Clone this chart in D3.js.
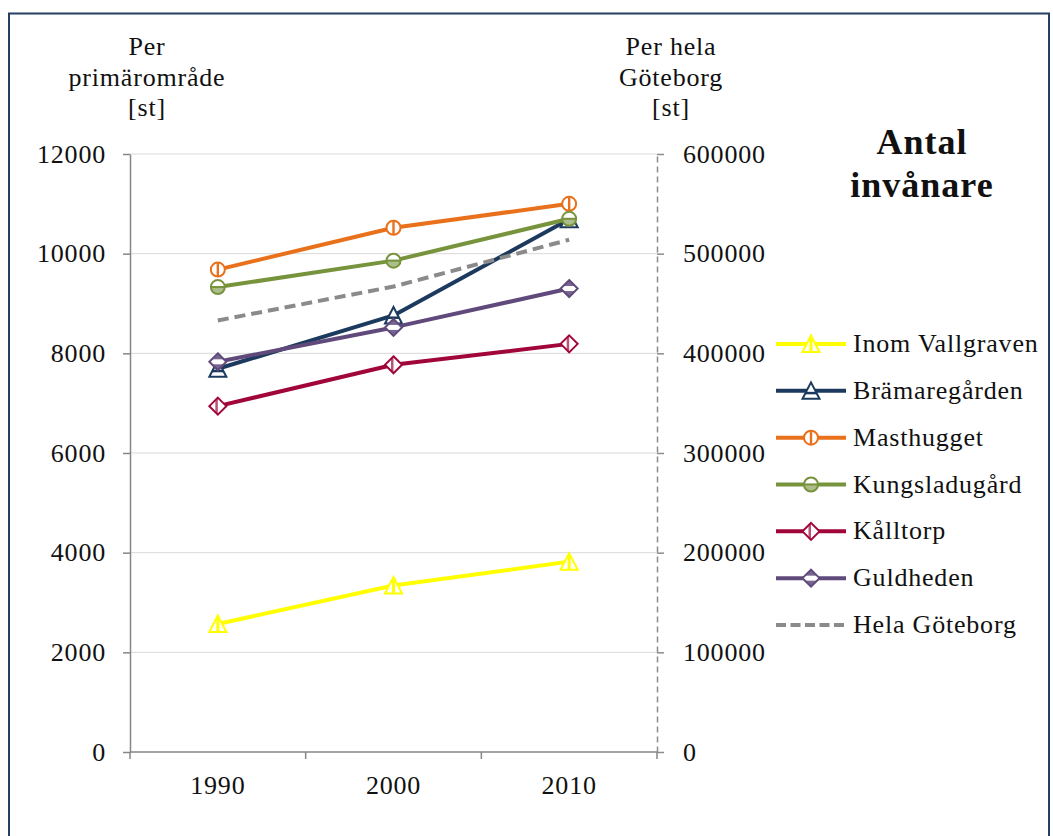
<!DOCTYPE html>
<html>
<head>
<meta charset="utf-8">
<script src="https://cdn.jsdelivr.net/npm/d3@7"></script>
<style>
  html, body { margin: 0; padding: 0; background: #fff; }
  svg text { font-family: "Liberation Serif", "Times New Roman", serif; fill: #111; }
</style>
</head>
<body>
<svg id="chart" width="1053" height="836"></svg>
<script>
// Population per district (left axis) and for all of Göteborg (right axis)
const years = ["1990", "2000", "2010"];

const inomVallgraven = [2570, 3340, 3820];
const bramaregarden  = [7690, 8760, 10690];
const masthugget     = [9680, 10520, 11000];
const kungsladugard  = [9330, 9860, 10700];
const kalltorp       = [6940, 7770, 8190];
const guldheden      = [7830, 8520, 9300];
const helaGoteborg   = [433000, 467000, 514000];

const leftTicks  = [0, 2000, 4000, 6000, 8000, 10000, 12000];
const rightTicks = [0, 100000, 200000, 300000, 400000, 500000, 600000];

const seriesNames = ["Inom Vallgraven", "Brämaregården", "Masthugget", "Kungsladugård", "Kålltorp", "Guldheden", "Hela Göteborg"];

const series = [
  { name: seriesNames[0], values: inomVallgraven, color: "#ffff00", marker: "triV", axis: "left" },
  { name: seriesNames[1], values: bramaregarden,  color: "#1c3a5e", marker: "triH", axis: "left" },
  { name: seriesNames[2], values: masthugget,     color: "#e9711c", marker: "circV", axis: "left" },
  { name: seriesNames[3], values: kungsladugard,  color: "#77933c", marker: "circH", axis: "left" },
  { name: seriesNames[4], values: kalltorp,       color: "#a0063a", marker: "diamV", axis: "left" },
  { name: seriesNames[5], values: guldheden,      color: "#604a7b", marker: "diamH", axis: "left" },
  { name: seriesNames[6], values: helaGoteborg,   color: "#8a8a8a", marker: null, axis: "right", dashed: true }
];

const svg = d3.select("#chart");
const plot = { left: 130, right: 657, top: 154, bottom: 752 };
const axisColor = "#868686";

const x = d3.scaleBand().domain(years).range([plot.left, plot.right]).padding(0);
const yL = d3.scaleLinear().domain([0, 12000]).range([plot.bottom, plot.top]);
const yR = d3.scaleLinear().domain([0, 600000]).range([plot.bottom, plot.top]);
const cx = d => x(d) + x.bandwidth() / 2;

// Outer frame
svg.append("rect")
  .attr("x", 9).attr("y", 13.5).attr("width", 1040).attr("height", 900)
  .attr("fill", "none").attr("stroke", "#243f60").attr("stroke-width", 2);

// Marker clip shapes, centred on the origin
const defs = svg.append("defs");
const shapes = {
  tri: "M0,-8.5 L8.5,8 L-8.5,8 Z",
  diam: "M0,-8.5 L8.5,0 L0,8.5 L-8.5,0 Z"
};
defs.append("clipPath").attr("id", "clip-tri").attr("clipPathUnits", "userSpaceOnUse")
  .append("path").attr("d", shapes.tri);
defs.append("clipPath").attr("id", "clip-diam").attr("clipPathUnits", "userSpaceOnUse")
  .append("path").attr("d", shapes.diam);
defs.append("clipPath").attr("id", "clip-circ").attr("clipPathUnits", "userSpaceOnUse")
  .append("circle").attr("r", 7);

function drawMarker(g, type, color) {
  const base = type.startsWith("tri") ? "tri" : type.startsWith("circ") ? "circ" : "diam";
  const outline = () => base === "circ"
    ? g.append("circle").attr("r", 7)
    : g.append("path").attr("d", shapes[base]);
  outline().attr("fill", "#fff");
  const inner = g.append("g").attr("clip-path", `url(#clip-${base})`);
  if (type === "triV") {
    inner.append("rect").attr("x", -1.5).attr("y", -10).attr("width", 3).attr("height", 20).attr("fill", color);
  } else if (type === "triH") {
    inner.append("rect").attr("x", -10).attr("y", 1).attr("width", 20).attr("height", 2.5).attr("fill", color);
  } else if (type === "circV") {
    inner.append("rect").attr("x", -1.2).attr("y", -8).attr("width", 2.4).attr("height", 16).attr("fill", color);
  } else if (type === "circH") {
    inner.append("rect").attr("x", -8).attr("y", -0.8).attr("width", 16).attr("height", 9).attr("fill", color).attr("fill-opacity", 0.6);
    inner.append("rect").attr("x", -8).attr("y", -1).attr("width", 16).attr("height", 2).attr("fill", color);
  } else if (type === "diamV") {
    inner.append("rect").attr("x", -2.5).attr("y", -10).attr("width", 2.5).attr("height", 20).attr("fill", color).attr("fill-opacity", 0.7);
  } else if (type === "diamH") {
    inner.append("rect").attr("x", -10).attr("y", -10).attr("width", 20).attr("height", 7.5).attr("fill", color).attr("fill-opacity", 0.85);
    inner.append("rect").attr("x", -10).attr("y", 2.5).attr("width", 20).attr("height", 7.5).attr("fill", color).attr("fill-opacity", 0.85);
  }
  outline().attr("fill", "none").attr("stroke", color).attr("stroke-width", 2);
}

// Horizontal gridlines
svg.append("g").selectAll("line")
  .data(leftTicks.filter(t => t > 0))
  .join("line")
  .attr("x1", plot.left).attr("x2", plot.right)
  .attr("y1", d => yL(d)).attr("y2", d => yL(d))
  .attr("stroke", "#d9d9d9").attr("stroke-width", 1);

// Left axis
const gLeft = svg.append("g").attr("transform", `translate(${plot.left},0)`)
  .call(d3.axisLeft(yL).tickValues(leftTicks).tickSize(7).tickSizeOuter(0).tickPadding(17).tickFormat(d3.format("d")));
gLeft.select(".domain").attr("stroke", axisColor).attr("stroke-width", 1.5);
gLeft.selectAll(".tick line").attr("stroke", axisColor).attr("stroke-width", 1.5);
gLeft.selectAll(".tick text").attr("font-size", 26).attr("letter-spacing", "0.8px")
  .attr("font-family", "Liberation Serif").attr("fill", "#111");

// Right axis (dashed spine)
const gRight = svg.append("g").attr("transform", `translate(${plot.right},0)`)
  .call(d3.axisRight(yR).tickValues(rightTicks).tickSize(7).tickSizeOuter(0).tickPadding(19).tickFormat(d3.format("d")));
gRight.select(".domain").attr("stroke", "#8c8c8c").attr("stroke-width", 1.5).attr("stroke-dasharray", "6,4");
gRight.selectAll(".tick line").attr("stroke", "#8c8c8c").attr("stroke-width", 1.5);
gRight.selectAll(".tick text").attr("font-size", 26).attr("letter-spacing", "0.8px")
  .attr("font-family", "Liberation Serif").attr("fill", "#111");

// Bottom axis: category labels at band centres, ticks on band boundaries
const gBottom = svg.append("g").attr("transform", `translate(0,${plot.bottom})`)
  .call(d3.axisBottom(x).tickSize(0).tickPadding(24));
gBottom.select(".domain").remove();
gBottom.selectAll(".tick text").attr("font-size", 26).attr("letter-spacing", "0.8px")
  .attr("font-family", "Liberation Serif").attr("fill", "#111");
svg.append("line")
  .attr("x1", plot.left).attr("x2", plot.right)
  .attr("y1", plot.bottom).attr("y2", plot.bottom)
  .attr("stroke", axisColor).attr("stroke-width", 1.5);
const boundaries = years.map(d => x(d)).concat([x(years[years.length - 1]) + x.bandwidth()]);
svg.append("g").selectAll("line")
  .data(boundaries)
  .join("line")
  .attr("x1", d => d).attr("x2", d => d)
  .attr("y1", plot.bottom).attr("y2", plot.bottom + 7)
  .attr("stroke", axisColor).attr("stroke-width", 1.5);

// Axis titles
function multiline(xc, baselines, lines, size, weight, spacing) {
  const t = svg.append("text").attr("text-anchor", "middle")
    .attr("font-size", size).attr("font-weight", weight || "normal")
    .attr("letter-spacing", spacing || "0.8px");
  lines.forEach((s, i) => t.append("tspan").attr("x", xc).attr("y", baselines[i]).text(s));
}
multiline(147, [55, 86, 116], ["Per", "primärområde", "[st]"], 26);
multiline(671, [55, 86, 116], ["Per hela", "Göteborg", "[st]"], 26);
multiline(922, [154, 197], ["Antal", "invånare"], 36, "bold", "1px");

// Series lines and markers
series.forEach(s => {
  const yS = s.axis === "left" ? yL : yR;
  const pts = years.map((yr, i) => ({ yr, v: s.values[i] }));
  const line = d3.line().x(d => cx(d.yr)).y(d => yS(d.v));
  const path = svg.append("path").datum(pts)
    .attr("d", line)
    .attr("fill", "none")
    .attr("stroke", s.color)
    .attr("stroke-width", 4)
    .attr("stroke-linejoin", "round");
  if (s.dashed) path.attr("stroke-dasharray", "11,6");
  if (s.marker) {
    pts.forEach(d => {
      const g = svg.append("g").attr("transform", `translate(${cx(d.yr)},${yS(d.v)})`);
      drawMarker(g, s.marker, s.color);
    });
  }
});

// Legend
const legendY = d3.scalePoint().domain(seriesNames).range([344, 625]);
series.forEach(s => {
  const yy = legendY(s.name);
  const ln = svg.append("line")
    .attr("x1", 776).attr("x2", 846).attr("y1", yy).attr("y2", yy)
    .attr("stroke", s.color).attr("stroke-width", 4);
  if (s.dashed) ln.attr("stroke-dasharray", "10,4.5");
  if (s.marker) {
    const g = svg.append("g").attr("transform", `translate(811,${yy})`);
    drawMarker(g, s.marker, s.color);
  }
  svg.append("text").attr("x", 853).attr("y", yy + 8)
    .attr("font-size", 26).attr("letter-spacing", "0.8px")
    .text(s.name);
});
</script>
</body>
</html>
